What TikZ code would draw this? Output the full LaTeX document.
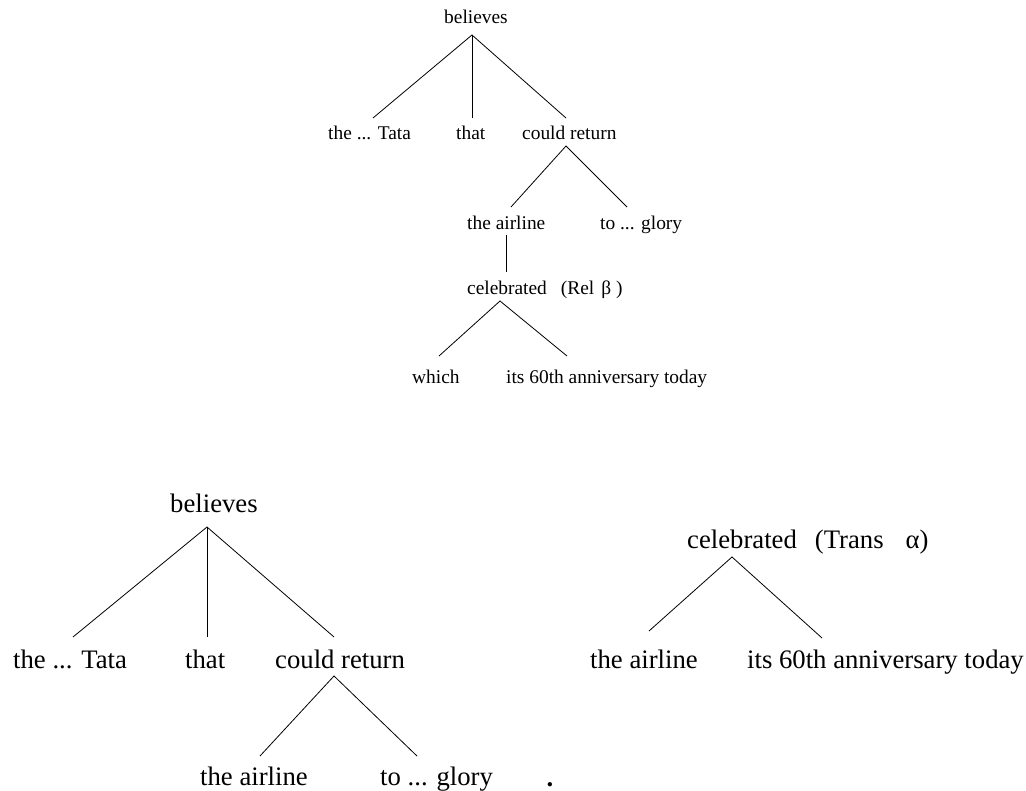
\documentclass[tikz,border=0pt]{standalone}
\usepackage{fontspec}
\setmainfont{Liberation Serif}
\begin{document}
\begin{tikzpicture}[x=1pt,y=-1pt,
  small/.style={anchor=base west,inner sep=0pt,font=\fontsize{19.4}{22}\selectfont},
  big/.style={anchor=base west,inner sep=0pt,font=\fontsize{26.7}{30}\selectfont},
  edge/.style={draw=black,line width=0.8pt}]
\useasboundingbox (0,0) rectangle (1026,791);
% ---------- top tree ----------
\node[small] (tB) at (444,24) {believes};
\node[small] (tTata) at (328,140) {the ... Tata};
\node[small] (tThat) at (456,140) {that};
\node[small] (tCould) at (522,140) {could return};
\node[small] (tAir) at (467,230) {the airline};
\node[small] (tGlory) at (600,230) {to ... glory};
\node[small] (tCel) at (467,295) {celebrated\hspace{14pt}(Rel\hspace{7pt}β\hspace{5pt})};
\node[small] (tWhich) at (412,384) {which};
\node[small] (tIts) at (506,384) {its 60th anniversary today};
\coordinate (tBa) at (472,35);
\coordinate (tTataT) at (373,118);
\coordinate (tThatT) at (472,118);
\coordinate (tCouldT) at (566,118);
\coordinate (tCoulda) at (566,146);
\coordinate (tAirT) at (511,207);
\coordinate (tGloryT) at (627,207);
\coordinate (tAira) at (506,235);
\coordinate (tCelT) at (506,272);
\coordinate (tCela) at (500,301);
\coordinate (tWhichT) at (439,356);
\coordinate (tItsT) at (567,356);
\draw[edge] (tTataT) -- (tBa) -- (tCouldT);
\draw[edge] (tBa) -- (tThatT);
\draw[edge] (tAirT) -- (tCoulda) -- (tGloryT);
\draw[edge] (tAira) -- (tCelT);
\draw[edge] (tWhichT) -- (tCela) -- (tItsT);
% ---------- bottom-left tree ----------
\node[big] (bB) at (170,512) {believes};
\node[big] (bTata) at (13,668) {the ... Tata};
\node[big] (bThat) at (185,668) {that};
\node[big] (bCould) at (275,668) {could return};
\node[big] (bAir) at (200,785) {the airline};
\node[big] (bGlory) at (380,785) {to ... glory};
\node[big,anchor=base] (bDot) at (550,786) {\bfseries .};
\coordinate (bBa) at (207,527);
\coordinate (bTataT) at (73,637);
\coordinate (bThatT) at (207,637);
\coordinate (bCouldT) at (334,637);
\coordinate (bCoulda) at (334,676);
\coordinate (bAirT) at (260,756);
\coordinate (bGloryT) at (417,756);
\draw[edge] (bTataT) -- (bBa) -- (bCouldT);
\draw[edge] (bBa) -- (bThatT);
\draw[edge] (bAirT) -- (bCoulda) -- (bGloryT);
% ---------- bottom-right tree ----------
\node[big] (rCel) at (687,548) {celebrated\hspace{18pt}(Trans\hspace{22pt}α)};
\node[big] (rAir) at (590,668) {the airline};
\node[big] (rIts) at (747,668) {its 60th anniversary today};
\coordinate (rCela) at (732,557);
\coordinate (rAirT) at (649,631);
\coordinate (rItsT) at (822,638);
\draw[edge] (rAirT) -- (rCela) -- (rItsT);
\end{tikzpicture}
\end{document}
